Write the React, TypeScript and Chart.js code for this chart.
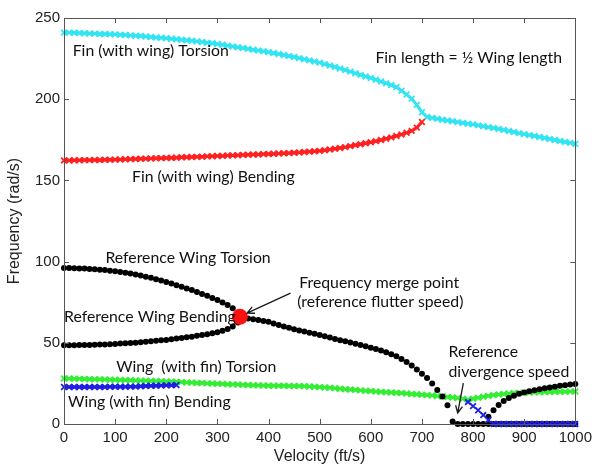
import React, { useEffect, useRef } from "react";
import { Chart, registerables } from "chart.js";
Chart.register(...registerables);

// Velocity grid (ft/s)
const velocity = [
  0, 10, 20, 30, 40, 50, 60, 70, 80, 90, 100, 110, 120, 130, 140, 150, 160, 170, 180, 190,
  200, 210, 220, 230, 240, 250, 260, 270, 280, 290, 300, 310, 320, 330, 340, 350, 360, 370, 380, 390,
  400, 410, 420, 430, 440, 450, 460, 470, 480, 490, 500, 510, 520, 530, 540, 550, 560, 570, 580, 590,
  600, 610, 620, 630, 640, 650, 660, 670, 680, 690, 700, 710, 720, 730, 740, 750, 760, 770, 780, 790,
  800, 810, 820, 830, 840, 850, 860, 870, 880, 890, 900, 910, 920, 930, 940, 950, 960, 970, 980, 990, 1000,
];

// Fin (with wing) Torsion, 0..1000
const finTorsion = [
  241.0, 241.0, 240.9, 240.8, 240.6, 240.5, 240.4, 240.2, 240.1, 240.0,
  239.9, 239.7, 239.5, 239.3, 239.1, 238.9, 238.6, 238.3, 238.0, 237.8,
  237.5, 237.2, 236.9, 236.6, 236.3, 236.0, 235.6, 235.2, 234.8, 234.4,
  234.0, 233.5, 233.0, 232.5, 232.0, 231.5, 231.0, 230.5, 230.0, 229.5,
  229.0, 228.4, 227.8, 227.2, 226.6, 226.0, 225.3, 224.6, 223.9, 223.2,
  222.5, 221.6, 220.7, 219.8, 218.9, 218.0, 217.0, 216.0, 215.0, 214.0,
  213.0, 212.0, 210.9, 209.8, 208.7, 207.5, 205.2, 202.9, 200.3, 196.5,
  192.0, 189.0, 188.5, 188.0, 187.4, 186.9, 186.4, 185.9, 185.4, 184.9,
  184.5, 183.9, 183.3, 182.8, 182.3, 181.7, 181.1, 180.4, 179.8, 179.1,
  178.5, 177.9, 177.3, 176.7, 176.1, 175.5, 174.9, 174.3, 173.7, 173.1, 172.5,
];

// Fin (with wing) Bending, 0..700
const finBending = [
  162.3, 162.3, 162.4, 162.4, 162.5, 162.5, 162.6, 162.6, 162.7, 162.7,
  162.8, 162.9, 163.0, 163.1, 163.2, 163.3, 163.4, 163.5, 163.6, 163.7,
  163.8, 163.9, 164.0, 164.2, 164.3, 164.4, 164.5, 164.6, 164.8, 164.9,
  165.0, 165.1, 165.3, 165.4, 165.5, 165.7, 165.8, 165.9, 166.0, 166.2,
  166.3, 166.4, 166.6, 166.7, 166.8, 167.0, 167.2, 167.5, 167.7, 167.9,
  168.2, 168.6, 169.0, 169.5, 170.0, 170.5, 171.1, 171.7, 172.3, 172.9,
  173.5, 174.2, 174.9, 175.7, 176.5, 177.3, 178.3, 179.3, 180.5, 182.5, 186.0,
];

// Reference wing torsion branch, 0..340
const refTorsion = [
  96.0, 96.0, 95.9, 95.8, 95.7, 95.5, 95.3, 95.0, 94.8, 94.4,
  94.0, 93.6, 93.1, 92.6, 92.0, 91.4, 90.7, 90.0, 89.2, 88.4,
  87.5, 86.5, 85.5, 84.5, 83.5, 82.5, 81.3, 80.1, 78.9, 77.6,
  76.3, 74.8, 73.2, 71.3, 68.5,
];

// Reference wing bending branch, 0..340
const refBending = [
  48.5, 48.5, 48.5, 48.6, 48.6, 48.7, 48.8, 48.9, 49.0, 49.1,
  49.3, 49.5, 49.7, 49.9, 50.1, 50.3, 50.6, 50.9, 51.2, 51.5,
  51.8, 52.2, 52.6, 53.0, 53.4, 53.8, 54.3, 54.8, 55.3, 55.9,
  56.5, 57.4, 58.5, 60.0, 62.5,
];

// Reference merged branch, 350..1000
const refMerged = [
  65.6, 65.0, 64.5, 64.0, 63.5, 62.9, 61.9, 60.9, 60.0, 59.2,
  58.4, 57.6, 56.9, 56.2, 55.5, 54.8, 54.0, 53.2, 52.4, 51.6,
  50.9, 50.2, 49.4, 48.6, 47.8, 47.0, 46.2, 45.3, 44.2, 43.0,
  41.7, 40.0, 38.2, 36.0, 33.6, 31.0, 28.3, 25.0, 21.0, 17.0,
  11.5, 1.5, 0, 0, 0, 0, 0, 0, 0, 0,
  0, 0, 0, 0, 0, 0, 0, 0, 0, 0,
  0, 0, 0, 0, 0, 0,
];

// Reference branch after divergence, 830..1000
const refRising = [
  4.5, 8.5, 11.7, 14.2, 16.0, 17.4, 18.6, 19.4, 20.1, 20.8,
  21.4, 22.0, 22.5, 23.0, 23.5, 23.9, 24.3, 24.6,
];

// Wing (with fin) Torsion, 0..1000
const wingTorsion = [
  28.0, 28.0, 27.9, 27.8, 27.7, 27.6, 27.5, 27.5, 27.4, 27.3,
  27.2, 27.1, 27.0, 26.9, 26.8, 26.7, 26.6, 26.5, 26.4, 26.3,
  26.2, 26.1, 26.0, 25.8, 25.6, 25.5, 25.3, 25.2, 25.0, 24.9,
  24.8, 24.7, 24.5, 24.4, 24.3, 24.1, 24.0, 23.9, 23.8, 23.7,
  23.6, 23.6, 23.5, 23.5, 23.4, 23.4, 23.4, 23.3, 23.1, 22.9,
  22.7, 22.5, 22.3, 22.0, 21.7, 21.4, 21.2, 21.0, 20.7, 20.5,
  20.3, 20.0, 19.8, 19.6, 19.4, 19.2, 19.0, 18.8, 18.5, 18.3,
  18.0, 17.8, 17.5, 17.2, 16.9, 16.6, 16.3, 16.0, 15.5, 15.0,
  15.6, 16.2, 16.8, 17.3, 17.8, 18.2, 18.5, 18.8, 19.0, 19.2,
  19.3, 19.4, 19.5, 19.6, 19.7, 19.7, 19.8, 19.9, 19.9, 20.0, 20.0,
];

// Wing (with fin) Bending, 0..220 and 790..1000
const wingBendingLow = [
  22.8, 22.8, 22.8, 22.8, 22.8, 22.8, 22.8, 22.8, 22.8, 22.9,
  22.9, 22.9, 22.9, 23.0, 23.0, 23.2, 23.4, 23.5, 23.6, 23.7,
  23.8, 23.9, 24.0,
];
const wingBendingHigh = [
  13.5, 11.0, 8.5, 5.5, 2.5, 0, 0, 0, 0, 0,
  0, 0, 0, 0, 0, 0, 0, 0, 0, 0,
  0, 0,
];

// Frequency merge point (reference flutter speed)
const mergeVelocity = [344];
const mergeFrequency = [66];

const xTicks = [0, 100, 200, 300, 400, 500, 600, 700, 800, 900, 1000];
const yTicks = [0, 50, 100, 150, 200, 250];

const pts = (values: number[], start: number) =>
  values.map((f, i) => ({ x: velocity[start + i], y: f }));

const notes = [
  { text: "Fin (with wing) Torsion", v: 17, f: 229.7 },
  { text: "Fin length = \u00BD Wing length", v: 609, f: 225.7 },
  { text: "Fin (with wing) Bending", v: 133, f: 152.3 },
  { text: "Reference Wing Torsion", v: 81, f: 102 },
  { text: "Reference Wing Bending", v: 0, f: 65.7 },
  { text: "Frequency merge point", v: 460, f: 86.6 },
  { text: "(reference flutter speed)", v: 456, f: 75.3 },
  { text: "Reference", v: 752, f: 44.5 },
  { text: "divergence speed", v: 752, f: 32.2 },
  { text: "Wing  (with fin) Torsion", v: 102, f: 34.9 },
  { text: "Wing (with fin) Bending", v: 8, f: 13.7 },
];
const arrows = [
  { v0: 443, f0: 80.6, v1: 358, f1: 68.3 },
  { v0: 781, f0: 25.2, v1: 770, f1: 6.8 },
];

const overlay = {
  id: "overlay",
  afterDraw(chart: any) {
    const { ctx, chartArea: a, scales } = chart;
    const x = scales.x;
    const y = scales.y;
    ctx.save();
    ctx.strokeStyle = "#555";
    ctx.lineWidth = 1;
    ctx.strokeRect(Math.round(a.left) + 0.5, Math.round(a.top) + 0.5, Math.round(a.right - a.left), Math.round(a.bottom - a.top));
    ctx.beginPath();
    for (const t of xTicks) {
      const px = Math.round(x.getPixelForValue(t)) + 0.5;
      ctx.moveTo(px, a.bottom);
      ctx.lineTo(px, a.bottom - 5);
      ctx.moveTo(px, a.top);
      ctx.lineTo(px, a.top + 5);
    }
    for (const t of yTicks) {
      const py = Math.round(y.getPixelForValue(t)) + 0.5;
      ctx.moveTo(a.left, py);
      ctx.lineTo(a.left + 5, py);
      ctx.moveTo(a.right, py);
      ctx.lineTo(a.right - 5, py);
    }
    ctx.stroke();

    ctx.font = "15.8px Lato";
    ctx.fillStyle = "#111";
    ctx.textAlign = "left";
    ctx.textBaseline = "middle";
    for (const n of notes) {
      ctx.fillText(n.text, x.getPixelForValue(n.v), y.getPixelForValue(n.f));
    }

    ctx.strokeStyle = "#1a1a1a";
    ctx.lineWidth = 1.3;
    for (const ar of arrows) {
      const x0 = x.getPixelForValue(ar.v0);
      const y0 = y.getPixelForValue(ar.f0);
      const x1 = x.getPixelForValue(ar.v1);
      const y1 = y.getPixelForValue(ar.f1);
      const ang = Math.atan2(y1 - y0, x1 - x0);
      const h = 8;
      ctx.beginPath();
      ctx.moveTo(x0, y0);
      ctx.lineTo(x1, y1);
      ctx.moveTo(x1 - h * Math.cos(ang - 0.45), y1 - h * Math.sin(ang - 0.45));
      ctx.lineTo(x1, y1);
      ctx.lineTo(x1 - h * Math.cos(ang + 0.45), y1 - h * Math.sin(ang + 0.45));
      ctx.stroke();
    }
    ctx.restore();
  },
};

export default function App() {
  const ref = useRef<HTMLCanvasElement>(null);
  useEffect(() => {
    if (!ref.current) return;
    const cross = (color: string, band = 3) => ({
      showLine: true,
      borderWidth: band,
      pointStyle: "crossRot" as const,
      pointRadius: 4,
      pointBorderWidth: 1.8,
      borderColor: color,
      backgroundColor: color,
      pointBorderColor: color,
      clip: false as const,
    });
    const dots = {
      showLine: false,
      pointStyle: "circle" as const,
      pointRadius: 3,
      pointBorderWidth: 0,
      borderColor: "#000",
      backgroundColor: "#000",
      pointBackgroundColor: "#000",
      clip: false as const,
    };
    const chart = new Chart(ref.current, {
      type: "scatter",
      data: {
        datasets: [
          {
            label: "merge",
            data: mergeVelocity.map((v, i) => ({ x: v, y: mergeFrequency[i] })),
            showLine: false,
            pointRadius: 8,
            pointBorderWidth: 0,
            backgroundColor: "#ff1010",
            pointBackgroundColor: "#ff1010",
            clip: false,
          },
          { label: "wingBendingLow", data: pts(wingBendingLow, 0), ...cross("#1e1ee6") },
          { label: "wingBendingHigh", data: pts(wingBendingHigh, 79), ...cross("#1e1ee6", 1) },
          { label: "refTorsion", data: pts(refTorsion, 0), ...dots },
          { label: "refBending", data: pts(refBending, 0), ...dots },
          { label: "refMerged", data: pts(refMerged, 35), ...dots },
          { label: "refRising", data: pts(refRising, 83), ...dots },
          { label: "wingTorsion", data: pts(wingTorsion, 0), ...cross("#33ee33") },
          { label: "finBending", data: pts(finBending, 0), ...cross("#ff2020") },
          { label: "finTorsion", data: pts(finTorsion, 0), ...cross("#33e4f2") },
        ] as any,
      },
      options: {
        responsive: false,
        animation: false,
        layout: { padding: { top: 18, right: 16, left: 0, bottom: 0 } },
        plugins: { legend: { display: false }, tooltip: { enabled: false } },
        scales: {
          x: {
            type: "linear",
            min: 0,
            max: 1000,
            afterBuildTicks: (s: any) => {
              s.ticks = xTicks.map((v) => ({ value: v }));
            },
            afterFit: (s: any) => {
              s.height = 42;
            },
            grid: { display: false, drawTicks: false },
            border: { display: false },
            ticks: {
              padding: 5,
              color: "#222",
              callback: (v: any) => String(v),
              font: { family: "'Liberation Sans', Arial, sans-serif", size: 15 },
            },
            title: {
              display: true,
              text: "Velocity (ft/s)",
              color: "#222",
              padding: 0,
              font: { family: "'Liberation Sans', Arial, sans-serif", size: 16 },
            },
          },
          y: {
            type: "linear",
            min: 0,
            max: 250,
            afterBuildTicks: (s: any) => {
              s.ticks = yTicks.map((v) => ({ value: v }));
            },
            afterFit: (s: any) => {
              s.width = 64;
            },
            grid: { display: false, drawTicks: false },
            border: { display: false },
            ticks: {
              padding: 4,
              color: "#222",
              callback: (v: any) => String(v),
              font: { family: "'Liberation Sans', Arial, sans-serif", size: 15 },
            },
            title: {
              display: true,
              text: "Frequency (rad/s)",
              color: "#222",
              padding: { top: 5, bottom: 0 },
              font: { family: "'Liberation Sans', Arial, sans-serif", size: 16 },
            },
          },
        },
      },
      plugins: [overlay],
    });
    return () => chart.destroy();
  }, []);
  return (
    <div style={{ position: "absolute", left: 0, top: 0, width: 597, height: 466, background: "#fff" }}>
      <canvas ref={ref} width={597} height={466} style={{ display: "block" }} />
    </div>
  );
}
